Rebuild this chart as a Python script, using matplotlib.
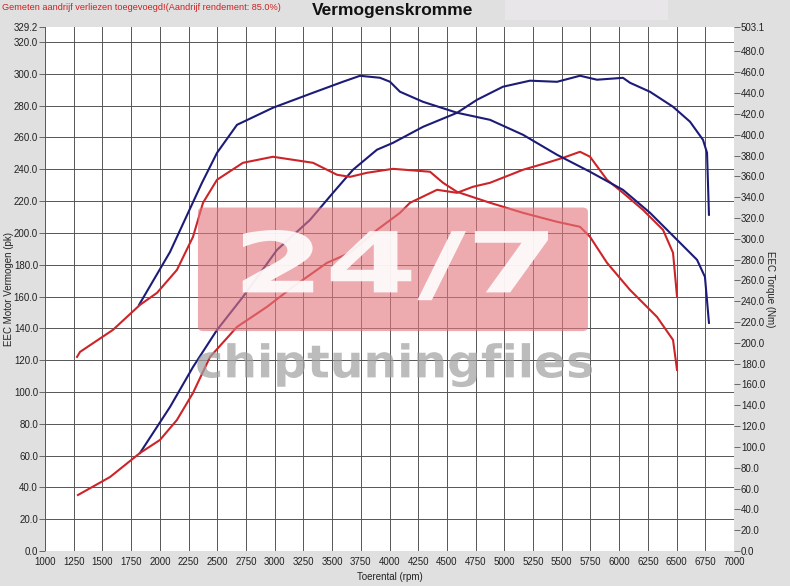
import numpy as np
import matplotlib.pyplot as plt
from matplotlib.patches import FancyBboxPatch, Rectangle, PathPatch
from matplotlib.textpath import TextPath
from matplotlib.font_manager import FontProperties
from matplotlib.transforms import Affine2D

plt.rcParams['font.family'] = ['Liberation Sans', 'DejaVu Sans']

# blue run - power (pk, left axis)
blue_pk_rpm = [1827, 2089, 2289, 2498, 2724, 3020, 3308, 3508, 3682, 3891, 4030, 4292, 4588,
               4762, 4988, 5223, 5459, 5659, 5807, 6033, 6094, 6269, 6469, 6617, 6730, 6765, 6782]
blue_pk = [61.6, 90.6, 115.7, 139.0, 159.8, 189.3, 208.2, 225.2, 239.7, 252.3, 256.6, 266.7, 275.5,
           283.7, 291.9, 295.7, 295.0, 298.8, 296.3, 297.5, 294.4, 288.7, 279.3, 269.9, 258.5, 250.4, 211.4]

# blue run - torque (Nm, right axis)
blue_nm_rpm = [1819, 2089, 2367, 2498, 2672, 2985, 3334, 3595, 3743, 3917, 4004, 4091, 4292, 4588,
               4875, 5163, 5459, 5746, 6033, 6269, 6504, 6678, 6747, 6782]
blue_nm = [236.5, 287.4, 353.8, 382.6, 409.5, 425.9, 440.3, 450.9, 456.6, 454.7, 450.9, 441.3, 431.6, 421.1,
           414.3, 399.9, 380.7, 364.4, 347.0, 324.9, 299.0, 279.8, 263.4, 219.2]

# red run - power (pk, left axis)
red_pk_rpm = [1287, 1566, 1827, 2001, 2149, 2289, 2437, 2672, 2933, 3160, 3456, 3656, 3891, 4091, 4178,
              4414, 4588, 4727, 4875, 5163, 5372, 5511, 5659, 5746, 5894, 6033, 6207, 6382, 6469, 6504]
red_pk = [35.2, 46.5, 61.6, 69.8, 82.4, 99.4, 122.0, 140.9, 153.5, 166.1, 181.2, 187.5, 201.9, 212.6, 218.9,
          227.1, 225.2, 229.0, 231.5, 239.7, 244.1, 247.2, 251.0, 247.9, 233.4, 225.2, 214.5, 201.9, 187.5, 159.8]

# red run - torque (Nm, right axis)
red_nm_rpm = [1279, 1305, 1592, 1827, 1975, 2149, 2289, 2376, 2498, 2724, 2985, 3334, 3543, 3656, 3804,
              4030, 4353, 4466, 4588, 4875, 5163, 5459, 5659, 5746, 5894, 6094, 6329, 6469, 6504]
red_nm = [186.5, 191.3, 212.5, 236.5, 248.0, 270.1, 301.9, 334.6, 356.7, 373.0, 378.8, 373.0, 361.5, 359.5, 363.4,
          367.2, 364.4, 353.8, 345.1, 334.6, 324.9, 316.3, 311.5, 301.9, 276.9, 250.9, 225.0, 202.8, 174.0]

x_ticks = np.arange(1000, 7001, 250)
left_ticks = list(np.arange(0, 321, 20)) + [329.2]
right_ticks = list(np.arange(0, 481, 20)) + [503.1]

BG = '#e0e0e0'
BLUE = '#1c1c78'
RED = '#cc2428'
TXT = '#222222'


def fitted_text(ax, s, box, **kw):
    # draw text as a path stretched to fill box (x0, y0, x1, y1) in axes coords
    tp = TextPath((0, 0), s, size=1, prop=FontProperties(family='DejaVu Sans', weight='bold'))
    ext = tp.get_extents()
    x0, y0, x1, y1 = box
    sx = (x1 - x0) / ext.width
    sy = (y1 - y0) / ext.height
    tr = Affine2D().translate(-ext.x0, -ext.y0).scale(sx, sy).translate(x0, y0) + ax.transAxes
    ax.add_patch(PathPatch(tp, transform=tr, edgecolor='none', **kw))


fig = plt.figure(figsize=(7.9, 5.86), dpi=100, facecolor=BG)
ax = fig.add_axes([45 / 790, 1 - 551 / 586, 689 / 790, (551 - 27.4) / 586])
ax.set_facecolor('white')
ax2 = ax.twinx()

ax.set_xlim(1000, 7000)
ax.set_ylim(0, 329.2)
ax2.set_ylim(0, 503.1)

for a in (ax, ax2):
    for s in a.spines.values():
        s.set_visible(False)

ax.set_xticks(x_ticks)
ax.set_xticklabels([str(v) for v in x_ticks])
ax.set_yticks(left_ticks)
ax.set_yticklabels(['%.1f' % v for v in left_ticks])
ax2.set_yticks(right_ticks)
ax2.set_yticklabels(['%.1f' % v for v in right_ticks])

ax.tick_params(axis='x', length=0, pad=4, labelsize=7, labelcolor=TXT)
ax.tick_params(axis='y', length=4, width=0.6, color='#555555', pad=1, labelsize=7, labelcolor=TXT)
ax2.tick_params(axis='y', length=4, width=0.6, color='#555555', pad=1, labelsize=7, labelcolor=TXT)

ax.grid(True, color='#555555', linewidth=0.7)
ax.set_axisbelow(True)
# no grid line at the 329.2 top tick
ax.get_ygridlines()[-1].set_visible(False)

ax.set_xlabel('Toerental (rpm)', fontsize=7, color=TXT, labelpad=4)
ax.set_ylabel('EEC Motor Vermogen (pk)', fontsize=7, color=TXT, va='center')
ax.yaxis.set_label_coords(-0.052, 0.5)
ax2.set_ylabel('EEC Torque (Nm)', fontsize=7, color=TXT, rotation=270, va='center')
ax2.yaxis.set_label_coords(1.052, 0.5)

ax.plot(blue_pk_rpm, blue_pk, color=BLUE, linewidth=1.5, zorder=3)
ax.plot(red_pk_rpm, red_pk, color=RED, linewidth=1.5, zorder=3)
ax2.plot(blue_nm_rpm, blue_nm, color=BLUE, linewidth=1.5, zorder=3)
ax2.plot(red_nm_rpm, red_nm, color=RED, linewidth=1.5, zorder=3)

# watermark, laid over the curves
ax2.add_patch(FancyBboxPatch((0.222, 0.42), 0.566, 0.236, boxstyle='round,pad=0,rounding_size=0.008',
                             transform=ax.transAxes, facecolor='#e4787e', edgecolor='none',
                             alpha=0.62, zorder=5))
fitted_text(ax2, '24/7', (0.287, 0.479, 0.730, 0.613), facecolor='white', alpha=0.9, zorder=6)
fitted_text(ax2, 'chiptuningfiles', (0.221, 0.313, 0.794, 0.397), facecolor='#a0a0a0',
            alpha=0.7, zorder=6)

# header
fig.patches.append(Rectangle((505 / 790, 1 - 20 / 586), 163 / 790, 20 / 586, transform=fig.transFigure,
                             facecolor='#e8e6e8', edgecolor='none'))
fig.text(2 / 790, 1 - 7 / 586, 'Gemeten aandrijf verliezen toegevoegd!(Aandrijf rendement: 85.0%)',
         fontsize=6.6, color='#d02020', ha='left', va='center')
fig.text(393 / 790, 1 - 10 / 586, 'Vermogenskromme', fontsize=12.5, fontweight='bold',
         ha='center', va='center', color='#111111')

plt.savefig('out.png', dpi=100, facecolor=BG)
